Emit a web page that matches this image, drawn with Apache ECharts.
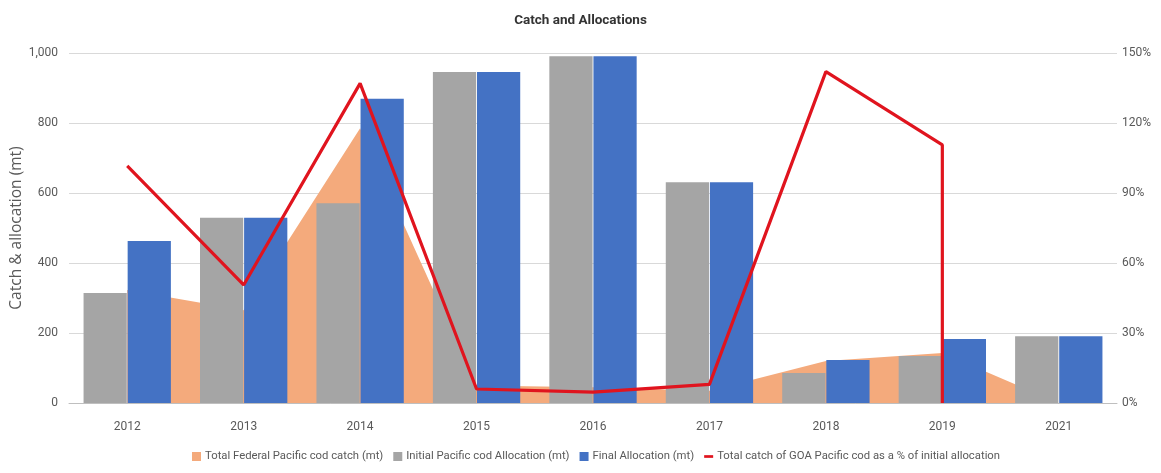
<!DOCTYPE html>
<html>
<head>
<meta charset="utf-8">
<script src="https://cdn.jsdelivr.net/npm/echarts@6/dist/echarts.min.js"></script>
<style>
  html, body { margin: 0; padding: 0; background: #fff; }
  #myChart { width: 1161px; height: 473px; }
</style>
</head>
<body>
<div id="myChart"></div>
<script>
// categories and values
var years = ['2012', '2013', '2014', '2015', '2016', '2017', '2018', '2019', '2021'];
var catchMt = [323, 265, 785, 50, 45, 35, 120, 143, 0];
var initialAlloc = [314, 529, 571, 946, 991, 631, 86, 134, 191];
var finalAlloc = [463, 529, 869, 946, 991, 631, 123, 183, 191];
// % line: [category index, value]; the last point drops straight down at 2019
var pctOfInitial = [[0, 101.6], [1, 50.6], [2, 137], [3, 6], [4, 4.7], [5, 8], [6, 142], [7, 110.6], [7, 0]];

var leftTicks = [0, 1000, 200];
var rightTicks = [0, 150, 30];

var fontName = 'Roboto, sans-serif';
var txt = '#595959';

var myChart = echarts.init(document.getElementById('myChart'));
myChart.setOption({
    animation: false,
    title: {
        text: 'Catch and Allocations',
        left: 'center',
        top: 9,
        textStyle: { fontFamily: fontName, fontSize: 13.5, fontWeight: 'bold', color: '#333' }
    },
    legend: {
        bottom: 6,
        left: 187,
        itemWidth: 9,
        itemHeight: 9,
        itemGap: 10,
        textStyle: { fontFamily: fontName, fontSize: 11.3, color: txt, padding: [0, 0, 0, -1] },
        data: [
            { name: 'Total Federal Pacific cod catch (mt)', icon: 'rect' },
            { name: 'Initial Pacific cod Allocation (mt)', icon: 'rect' },
            { name: 'Final Allocation (mt)', icon: 'rect' },
            { name: 'Total catch of GOA Pacific cod as a % of initial allocation', icon: 'path://M0,4H10V7H0Z' }
        ]
    },
    grid: { left: 69, right: 44, top: 53, bottom: 70, containLabel: false, outerBoundsMode: 'none' },
    xAxis: {
        type: 'category',
        data: years,
        axisTick: { show: false },
        axisLine: { lineStyle: { color: '#bfbfbf' } },
        axisLabel: { margin: 18, fontFamily: fontName, fontSize: 12, color: txt }
    },
    yAxis: [{
        type: 'value',
        min: leftTicks[0], max: leftTicks[1], interval: leftTicks[2],
        name: 'Catch & allocation (mt)',
        nameLocation: 'middle',
        nameGap: 44,
        nameMoveOverlap: false,
        nameTextStyle: { fontFamily: '"Open Sans", sans-serif', fontSize: 15.5, color: txt },
        axisLabel: {
            fontFamily: fontName, fontSize: 12, color: txt, margin: 11,
            formatter: function (v) { return v.toLocaleString('en-US'); }
        },
        splitLine: { lineStyle: { color: '#d9d9d9' } }
    }, {
        type: 'value',
        min: rightTicks[0], max: rightTicks[1], interval: rightTicks[2],
        axisLabel: { fontFamily: fontName, fontSize: 12, color: txt, margin: 5, formatter: '{value}%' },
        splitLine: { show: false }
    }],
    series: [{
        name: 'Total Federal Pacific cod catch (mt)',
        type: 'line',
        data: catchMt,
        symbol: 'none',
        color: '#F4AA7C',
        lineStyle: { width: 0 },
        areaStyle: { color: '#F4AA7C', opacity: 1 },
        z: 1
    }, {
        name: 'Initial Pacific cod Allocation (mt)',
        type: 'bar',
        data: initialAlloc,
        color: '#A5A5A5',
        barGap: '2%',
        barCategoryGap: '25%',
        z: 2
    }, {
        name: 'Final Allocation (mt)',
        type: 'bar',
        data: finalAlloc,
        color: '#4472C4',
        z: 2
    }, {
        name: 'Total catch of GOA Pacific cod as a % of initial allocation',
        type: 'line',
        yAxisIndex: 1,
        data: pctOfInitial,
        symbol: 'none',
        color: '#E0141E',
        lineStyle: { width: 3.2, color: '#E0141E' },
        z: 5
    }]
});
</script>
</body>
</html>
